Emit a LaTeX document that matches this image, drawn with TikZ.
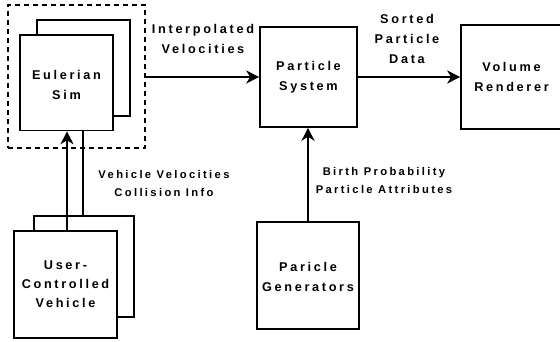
\documentclass[tikz,border=0pt]{standalone}
\usepackage{fontspec}
\setmainfont{Liberation Sans}[LetterSpace=21]
\usetikzlibrary{arrows.meta}
\begin{document}
\begin{tikzpicture}[x=1pt,y=-1pt,
  lw/.style={line width=1.6pt},
  box/.style={draw,lw,fill=white,inner sep=0pt,align=center,font=\fontsize{12.7}{20}\selectfont\bfseries},
  lbl/.style={inner sep=0pt,align=center,font=\fontsize{12.7}{20}\selectfont\bfseries},
  slbl/.style={inner sep=0pt,align=center,font=\fontsize{11.2}{18}\selectfont\bfseries},
  arr/.style={lw,-{Stealth[length=13pt,width=13pt,inset=4pt]}},
  conn/.style={lw}
]
\useasboundingbox (0,0) rectangle (560,342);
% dashed group
\node[draw,lw,dash pattern=on 5pt off 4pt,minimum width=137pt,minimum height=143pt,inner sep=0pt] (grp) at (76.5,76.5) {};
% Eulerian sim
\node[box,minimum width=93pt,minimum height=96pt] (eulb) at (83.5,68) {};
\node[box,minimum width=93pt,minimum height=95.5pt] (eul) at (66.5,82.75) {};
\node[lbl] (eult) at (66.5,85) {Eulerian\\Sim};
% Particle system
\node[box,minimum width=97pt,minimum height=100pt] (ps) at (308.5,77) {Particle\\System};
% Volume renderer
\node[box,minimum width=101pt,minimum height=104pt] (vr) at (511.5,77) {Volume\\Renderer};
% Vehicle
\node[box,minimum width=100pt,minimum height=101pt] (vehb) at (84,266.5) {};
\node[box,minimum width=103pt,minimum height=107pt,font=\fontsize{12.7}{19}\selectfont\bfseries] (veh) at (65.5,284.5) {User-\\Controlled\\Vehicle};
% Generators
\node[box,minimum width=102pt,minimum height=107pt] (gen) at (308,275.5) {};
\node[lbl] (gent) at (308,277) {Paricle\\Generators};
% connectors
\draw[arr] (grp.east |- 0,77) -- (ps.west |- 0,77);
\draw[arr] (ps.east |- 0,77) -- (vr.west |- 0,77);
\draw[arr] (veh.north -| 67,0) -- (eul.south -| 67,0);
\draw[conn] (eul.south -| 83,0) -- (vehb.north -| 83,0);
\draw[arr] (gen.north -| 308,0) -- (ps.south -| 308,0);
% labels
\node[lbl] (l1) at (203,39) {Interpolated\\Velocities};
\node[lbl] (l2) at (407,39) {Sorted\\Particle\\Data};
\node[slbl] (l3) at (164,183) {Vehicle Velocities\\Collision Info};
\node[slbl] (l4) at (384,180) {Birth Probability\\Particle Attributes};
\end{tikzpicture}
\end{document}
